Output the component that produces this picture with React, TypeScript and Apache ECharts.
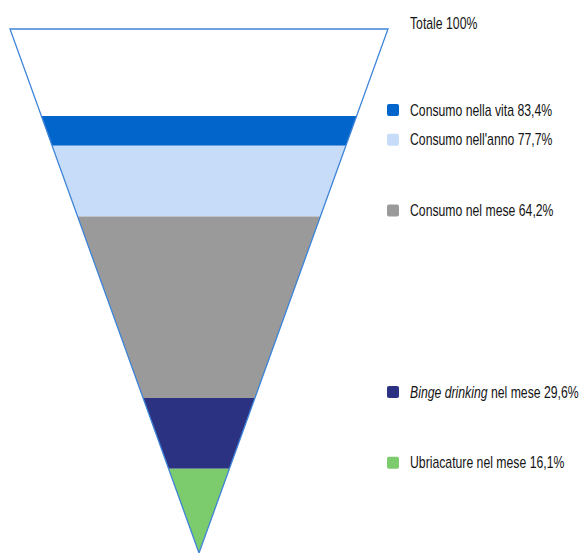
import React, { useEffect, useRef } from "react";
import * as echarts from "echarts";

const labels = [
  "Totale",
  "Consumo nella vita",
  "Consumo nell'anno",
  "Consumo nel mese",
  "Binge drinking nel mese",
  "Ubriacature nel mese",
];
const values = [100, 83.4, 77.7, 64.2, 29.6, 16.1];
const colors = ["#ffffff", "#0265cb", "#c6dcf8", "#9a9a9a", "#2b3281", "#7ccb6c"];
const italicPart = ["", "", "", "", "Binge drinking", ""];

const FONT = "'Liberation Sans', Arial, sans-serif";

export default function App() {
  const ref = useRef<HTMLDivElement>(null);
  useEffect(() => {
    if (!ref.current) return;
    const chart = echarts.init(ref.current, undefined, { renderer: "svg" });
    const bandData = values.map((v, i) => [i, v, i + 1 < values.length ? values[i + 1] : 0]);
    const fmt = (v: number) => (v === 100 ? "100" : v.toFixed(1).replace(".", ",")) + "%";
    chart.setOption({
      animation: false,
      backgroundColor: "#ffffff",
      grid: { left: 10, top: 29, width: 378, height: 524 },
      xAxis: { type: "value", min: -50, max: 50, show: false },
      yAxis: { type: "value", min: 0, max: 100, show: false },
      series: [
        {
          type: "custom",
          clip: false,
          data: bandData,
          renderItem: (params: any, api: any) => {
            const i = api.value(0);
            const hi = api.value(1);
            const lo = api.value(2);
            const p1 = api.coord([-hi / 2, hi]);
            const p2 = api.coord([hi / 2, hi]);
            const p3 = api.coord([lo / 2, lo]);
            const p4 = api.coord([-lo / 2, lo]);
            const right = api.coord([50, 100])[0];
            const ty = p1[1] - 6;
            const children: any[] = [
              {
                type: "polygon",
                shape: { points: [p1, p2, p3, p4] },
                style: { fill: colors[i], stroke: null },
              },
            ];
            if (i > 0) {
              children.push({
                type: "rect",
                shape: { x: right - 1, y: ty - 6, width: 12, height: 12, r: 2 },
                style: { fill: colors[i] },
              });
            }
            const label = labels[i];
            const it = italicPart[i];
            let text: string;
            if (it && label.startsWith(it)) {
              text = "{i|" + it + "}{n|" + label.slice(it.length) + " " + fmt(hi) + "}";
            } else {
              text = "{n|" + label + " " + fmt(hi) + "}";
            }
            children.push({
              type: "text",
              x: right + 22,
              y: ty,
              scaleX: 0.765,
              style: {
                text,
                fill: "#141414",
                verticalAlign: "middle",
                align: "left",
                rich: {
                  n: { fontFamily: FONT, fontSize: 16, fill: "#141414" },
                  i: { fontFamily: FONT, fontSize: 16, fontStyle: "italic", fill: "#141414" },
                },
              },
            });
            return { type: "group", children };
          },
        },
        {
          type: "custom",
          clip: false,
          z: 5,
          data: [[values[0]]],
          renderItem: (params: any, api: any) => {
            const top = api.value(0);
            return {
              type: "polygon",
              shape: {
                points: [api.coord([-top / 2, top]), api.coord([top / 2, top]), api.coord([0, 0])],
              },
              style: { fill: null, stroke: "#3d84d8", lineWidth: 1.3 },
            };
          },
        },
      ],
    });
    return () => chart.dispose();
  }, []);
  return (
    <div
      ref={ref}
      style={{ position: "fixed", left: 0, top: 0, width: 581, height: 553 }}
    />
  );
}
